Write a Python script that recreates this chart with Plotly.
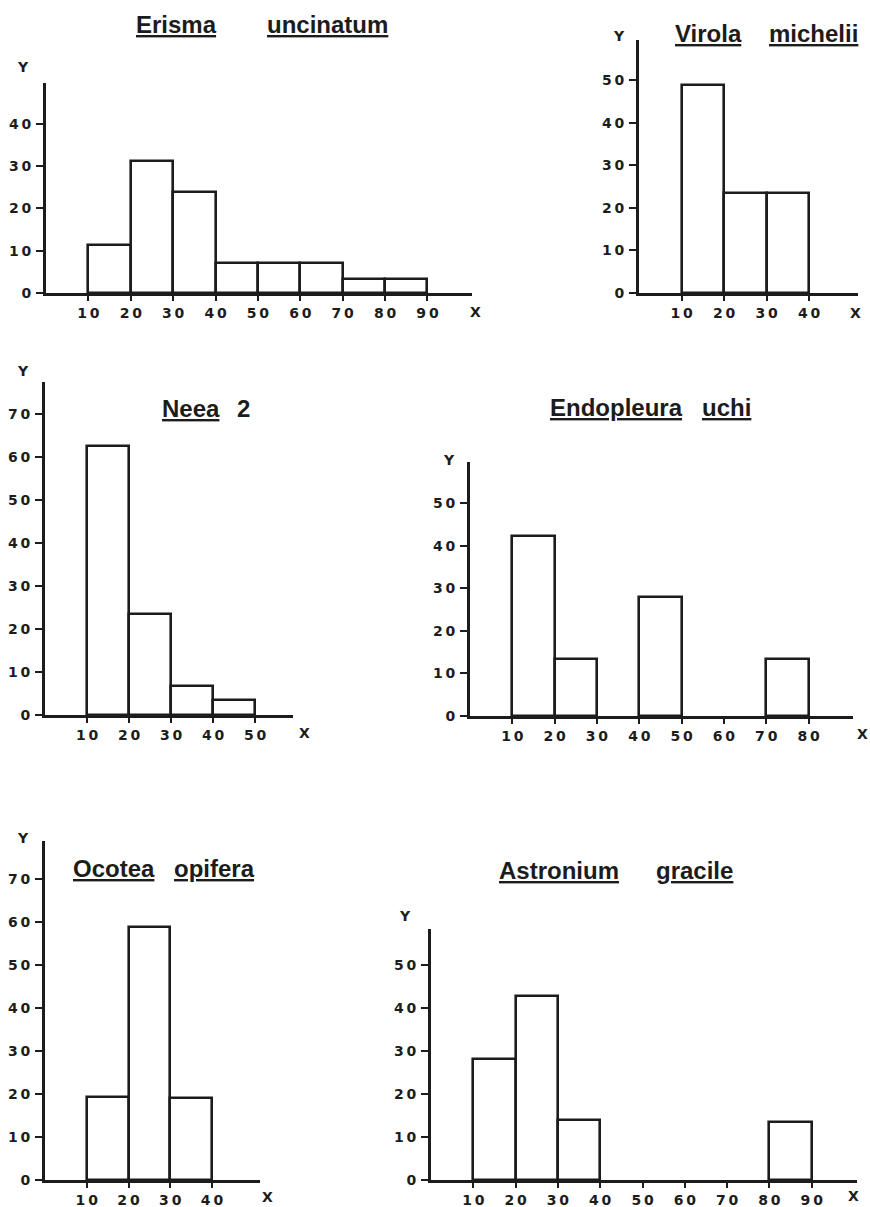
import plotly.graph_objects as go

# ---------------- data ----------------
erisma_bins = [10, 20, 30, 40, 50, 60, 70, 80]
erisma_pct = [11.4, 31.2, 23.8, 7.0, 7.0, 7.0, 3.4, 3.4]

virola_bins = [10, 20, 30]
virola_pct = [48.9, 23.6, 23.6]

neea_bins = [10, 20, 30, 40]
neea_pct = [62.5, 23.5, 6.8, 3.4]

endopleura_bins = [10, 20, 40, 70]
endopleura_pct = [42.3, 13.5, 28.0, 13.4]

ocotea_bins = [10, 20, 30]
ocotea_pct = [19.2, 58.8, 19.0]

astronium_bins = [10, 20, 30, 80]
astronium_pct = [28.3, 43.0, 14.0, 13.5]

BIN_WIDTH = 10

erisma_xticks = [10, 20, 30, 40, 50, 60, 70, 80, 90]
virola_xticks = [10, 20, 30, 40]
neea_xticks = [10, 20, 30, 40, 50]
endopleura_xticks = [10, 20, 30, 40, 50, 60, 70, 80]
ocotea_xticks = [10, 20, 30, 40]
astronium_xticks = [10, 20, 30, 40, 50, 60, 70, 80, 90]

erisma_yticks = [0, 10, 20, 30, 40]
virola_yticks = [0, 10, 20, 30, 40, 50]
neea_yticks = [0, 10, 20, 30, 40, 50, 60, 70]
endopleura_yticks = [0, 10, 20, 30, 40, 50]
ocotea_yticks = [0, 10, 20, 30, 40, 50, 60, 70]
astronium_yticks = [0, 10, 20, 30, 40, 50]

# title words: (text, underlined)
erisma_title = [("Erisma", True), ("uncinatum", True)]
virola_title = [("Virola", True), ("michelii", True)]
neea_title = [("Neea", True), ("2", False)]
endopleura_title = [("Endopleura", True), ("uchi", True)]
ocotea_title = [("Ocotea", True), ("opifera", True)]
astronium_title = [("Astronium", True), ("gracile", True)]

# ---------------- layout (pixels) ----------------
W, H = 870, 1207
INK = "#1c1c1c"

panels = [
    dict(bins=erisma_bins, vals=erisma_pct, xt=erisma_xticks, yt=erisma_yticks,
         title=erisma_title, xpx=(46, 472), ypx=(293, 83), xr=100.5, yr=49.7,
         word_x=[176, 327], word_y=24, Xlab=(475, 312), Ylab=(23, 67)),
    dict(bins=virola_bins, vals=virola_pct, xt=virola_xticks, yt=virola_yticks,
         title=virola_title, xpx=(639, 858), ypx=(293, 40), xr=51.5, yr=59.5,
         word_x=[708, 813], word_y=34, Xlab=(855, 313), Ylab=(619, 36)),
    dict(bins=neea_bins, vals=neea_pct, xt=neea_xticks, yt=neea_yticks,
         title=neea_title, xpx=(45, 293), ypx=(715, 382), xr=59.0, yr=77.5,
         word_x=[191, 243], word_y=408, Xlab=(304, 733), Ylab=(23, 371)),
    dict(bins=endopleura_bins, vals=endopleura_pct, xt=endopleura_xticks, yt=endopleura_yticks,
         title=endopleura_title, xpx=(470, 853), ypx=(716, 462), xr=90.5, yr=59.7,
         word_x=[616, 726], word_y=407, Xlab=(862, 734), Ylab=(449, 460)),
    dict(bins=ocotea_bins, vals=ocotea_pct, xt=ocotea_xticks, yt=ocotea_yticks,
         title=ocotea_title, xpx=(45, 260), ypx=(1180, 841), xr=51.5, yr=78.8,
         word_x=[114, 214], word_y=868, Xlab=(267, 1197), Ylab=(23, 838)),
    dict(bins=astronium_bins, vals=astronium_pct, xt=astronium_xticks, yt=astronium_yticks,
         title=astronium_title, xpx=(431, 857), ypx=(1180, 929), xr=100.7, yr=58.5,
         word_x=[559, 694], word_y=870, Xlab=(853, 1196), Ylab=(405, 916)),
]


def fx(p):
    return p / W


def fy(p):
    return 1 - p / H


def spaced(v):
    return "\u2009".join(str(v))


fig = go.Figure()
annotations = []
tickfont = dict(family="DejaVu Sans", size=14, color=INK, weight="bold")
titlefont = dict(family="Liberation Sans", size=24, color=INK, weight="bold")

for i, p in enumerate(panels, start=1):
    sfx = "" if i == 1 else str(i)
    centers = [b + BIN_WIDTH / 2 for b in p["bins"]]
    fig.add_trace(go.Bar(
        x=centers, y=p["vals"], width=[BIN_WIDTH] * len(centers),
        marker=dict(color="white", line=dict(color=INK, width=2.6)),
        xaxis="x" + sfx, yaxis="y" + sfx, hoverinfo="x+y",
    ))
    fig.update_layout(**{
        "xaxis" + sfx: dict(
            domain=[fx(p["xpx"][0]), fx(p["xpx"][1])], range=[0, p["xr"]],
            anchor="y" + sfx, showgrid=False, zeroline=False, automargin=False,
            showline=True, linecolor=INK, linewidth=2.8,
            ticks="outside", ticklen=5, tickwidth=2, tickcolor=INK,
            tickvals=p["xt"], ticktext=[spaced(v) for v in p["xt"]],
            tickfont=tickfont, ticklabelstandoff=0, fixedrange=True,
        ),
        "yaxis" + sfx: dict(
            domain=[fy(p["ypx"][0]), fy(p["ypx"][1])], range=[0, p["yr"]],
            anchor="x" + sfx, showgrid=False, zeroline=False, automargin=False,
            showline=True, linecolor=INK, linewidth=2.8,
            ticks="outside", ticklen=7, tickwidth=2, tickcolor=INK,
            tickvals=p["yt"], ticktext=[spaced(v) for v in p["yt"]],
            tickfont=tickfont, ticklabelstandoff=2, fixedrange=True,
        ),
    })
    for (word, ul), wx in zip(p["title"], p["word_x"]):
        f = dict(titlefont)
        if ul:
            f["lineposition"] = "under"
        annotations.append(dict(
            text=word, x=fx(wx), y=fy(p["word_y"]), xref="paper", yref="paper",
            xanchor="center", yanchor="middle", showarrow=False, font=f,
        ))
    annotations.append(dict(
        text="X", x=fx(p["Xlab"][0]), y=fy(p["Xlab"][1]), xref="paper", yref="paper",
        xanchor="center", yanchor="middle", showarrow=False, font=tickfont,
    ))
    annotations.append(dict(
        text="Y", x=fx(p["Ylab"][0]), y=fy(p["Ylab"][1]), xref="paper", yref="paper",
        xanchor="center", yanchor="middle", showarrow=False, font=tickfont,
    ))

fig.update_layout(
    template="none",
    width=W, height=H, margin=dict(l=0, r=0, t=0, b=0, pad=0),
    paper_bgcolor="white", plot_bgcolor="white",
    showlegend=False, bargap=0, annotations=annotations,
)

fig.write_html(
    "out.html",
    config={"displayModeBar": False},
    post_script="document.body.style.margin='0px';document.body.style.overflow='hidden';",
)
